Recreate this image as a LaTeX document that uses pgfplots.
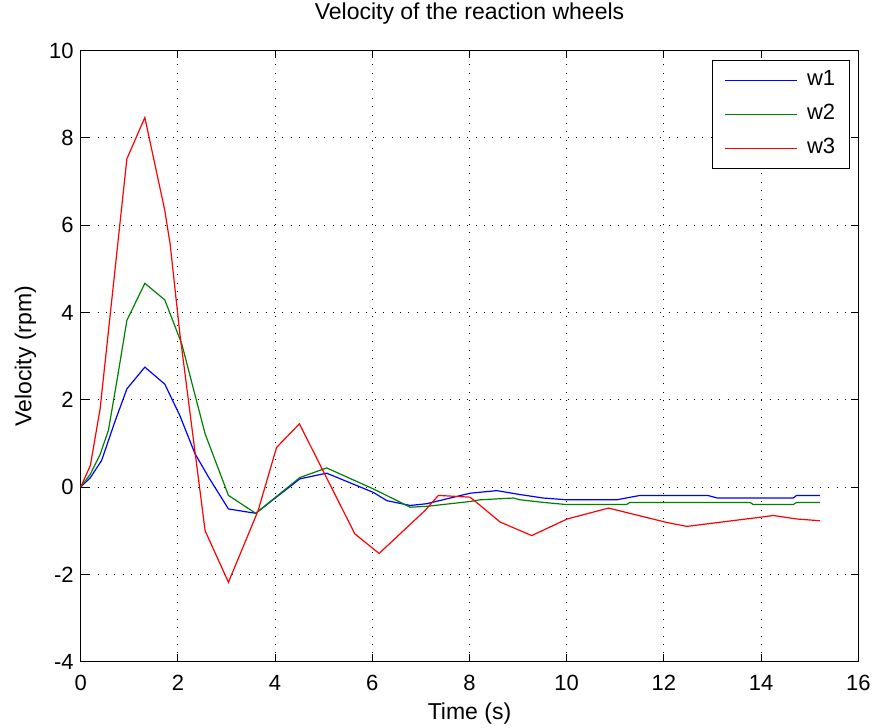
\documentclass[border=0pt]{standalone}
\usepackage{fontspec}
\setmainfont{Liberation Sans}
\usepackage{pgfplots}
\pgfplotsset{compat=1.18}
\usetikzlibrary{calc}

\definecolor{mblue}{rgb}{0,0,1}
\definecolor{mgreen}{rgb}{0,0.5,0}
\definecolor{mred}{rgb}{1,0,0}

\begin{document}
\begin{tikzpicture}
\begin{axis}[
  scale only axis, width=388.8pt, height=305.5pt,
  xmin=0, xmax=16, ymin=-4, ymax=10,
  xtick={0,2,...,16}, ytick={-4,-2,...,10},
  tick align=inside, tick pos=both, major tick length=3.9pt,
  grid=major,
  major grid style={black, line width=0.5pt, dash pattern=on 0.5pt off 3.7pt},
  axis line style={line width=0.5pt},
  every tick/.style={black, line width=0.5pt},
  /pgf/number format/assume math mode=true,
  ticklabel style={font=\fontsize{11}{13}\selectfont},
  xticklabel style={anchor=base, yshift=-14.15pt},
  title={Velocity of the reaction wheels},
  title style={at={(axis description cs:0.5,1.0311)}, anchor=base, font=\fontsize{11.5}{13}\selectfont},
  xlabel={Time (s)},
  xlabel style={at={(axis description cs:0.5,-0.0954)}, anchor=base, font=\fontsize{11.5}{13}\selectfont},
  ylabel={Velocity (rpm)},
  ylabel style={at={(axis description cs:-0.0712,0.5)}, anchor=center, font=\fontsize{11.5}{13}\selectfont},
  legend cell align=left,
  legend image code/.code={\draw[#1] (0pt,0pt) -- (36pt,0pt);},
  legend style={at={(axis description cs:1,1)}, anchor=north east,
    xshift=-4.3pt, yshift=-4.65pt, draw=black, line width=0.5pt,
    inner xsep=6pt, inner ysep=3.75pt, row sep=4.5pt, column sep=3.5pt,
    nodes={inner sep=1pt, text height=8pt, text depth=2.5pt},
    font=\fontsize{11}{13}\selectfont},
]
% w1
\addplot[mblue, line width=0.6pt] coordinates {
(0,0) (0.2,0.22) (0.43,0.61) (0.71,1.52) (0.95,2.25) (1.32,2.75)
(1.73,2.36) (2.04,1.64) (2.35,0.77) (2.63,0.23) (3.04,-0.50) (3.6,-0.6)
(4.51,0.19) (5.06,0.32) (6.02,-0.12) (6.30,-0.31) (6.78,-0.42) (7.12,-0.38)
(8.01,-0.14) (8.56,-0.08) (9.04,-0.17) (9.52,-0.25) (10.0,-0.29) (11.03,-0.29)
(11.51,-0.19) (12.9,-0.19) (13.1,-0.25) (14.66,-0.25) (14.73,-0.19) (15.21,-0.19)
};
\addlegendentry{w1}
% w2
\addplot[mgreen, line width=0.6pt] coordinates {
(0,0) (0.2,0.3) (0.4,0.75) (0.57,1.3) (0.77,2.6) (0.95,3.82) (1.32,4.67)
(1.73,4.29) (2.08,3.28) (2.56,1.22) (3.04,-0.19) (3.6,-0.6) (4.51,0.22)
(5.06,0.44) (6.02,-0.04) (6.78,-0.46) (7.12,-0.44) (8.01,-0.33) (8.22,-0.29)
(8.9,-0.25) (9.04,-0.29) (9.52,-0.35) (10.0,-0.40) (11.23,-0.40) (11.3,-0.35)
(13.77,-0.35) (13.84,-0.40) (14.66,-0.40) (14.73,-0.35) (15.21,-0.35)
};
\addlegendentry{w2}
% w3
\addplot[mred, line width=0.6pt] coordinates {
(0,0) (0.2,0.5) (0.4,1.8) (0.95,7.52) (1.32,8.47) (1.73,6.34) (1.84,5.57)
(2.04,3.52) (2.56,-1.0) (3.04,-2.18) (3.65,-0.54) (4.03,0.91) (4.50,1.45)
(5.64,-1.07) (6.14,-1.52) (7.08,-0.54) (7.36,-0.19) (8.01,-0.23) (8.22,-0.42)
(8.63,-0.80) (9.28,-1.11) (10.01,-0.73) (10.86,-0.48) (12.06,-0.81) (12.47,-0.90)
(13.98,-0.69) (14.25,-0.65) (14.73,-0.73) (15.21,-0.77)
};
\addlegendentry{w3}
\end{axis}
\pgfresetboundingbox
\path[use as bounding box] ($(current axis.south west)+(-40.35pt,-32.65pt)$) rectangle ($(current axis.north east)+(8.85pt,25.35pt)$);
\end{tikzpicture}
\end{document}
